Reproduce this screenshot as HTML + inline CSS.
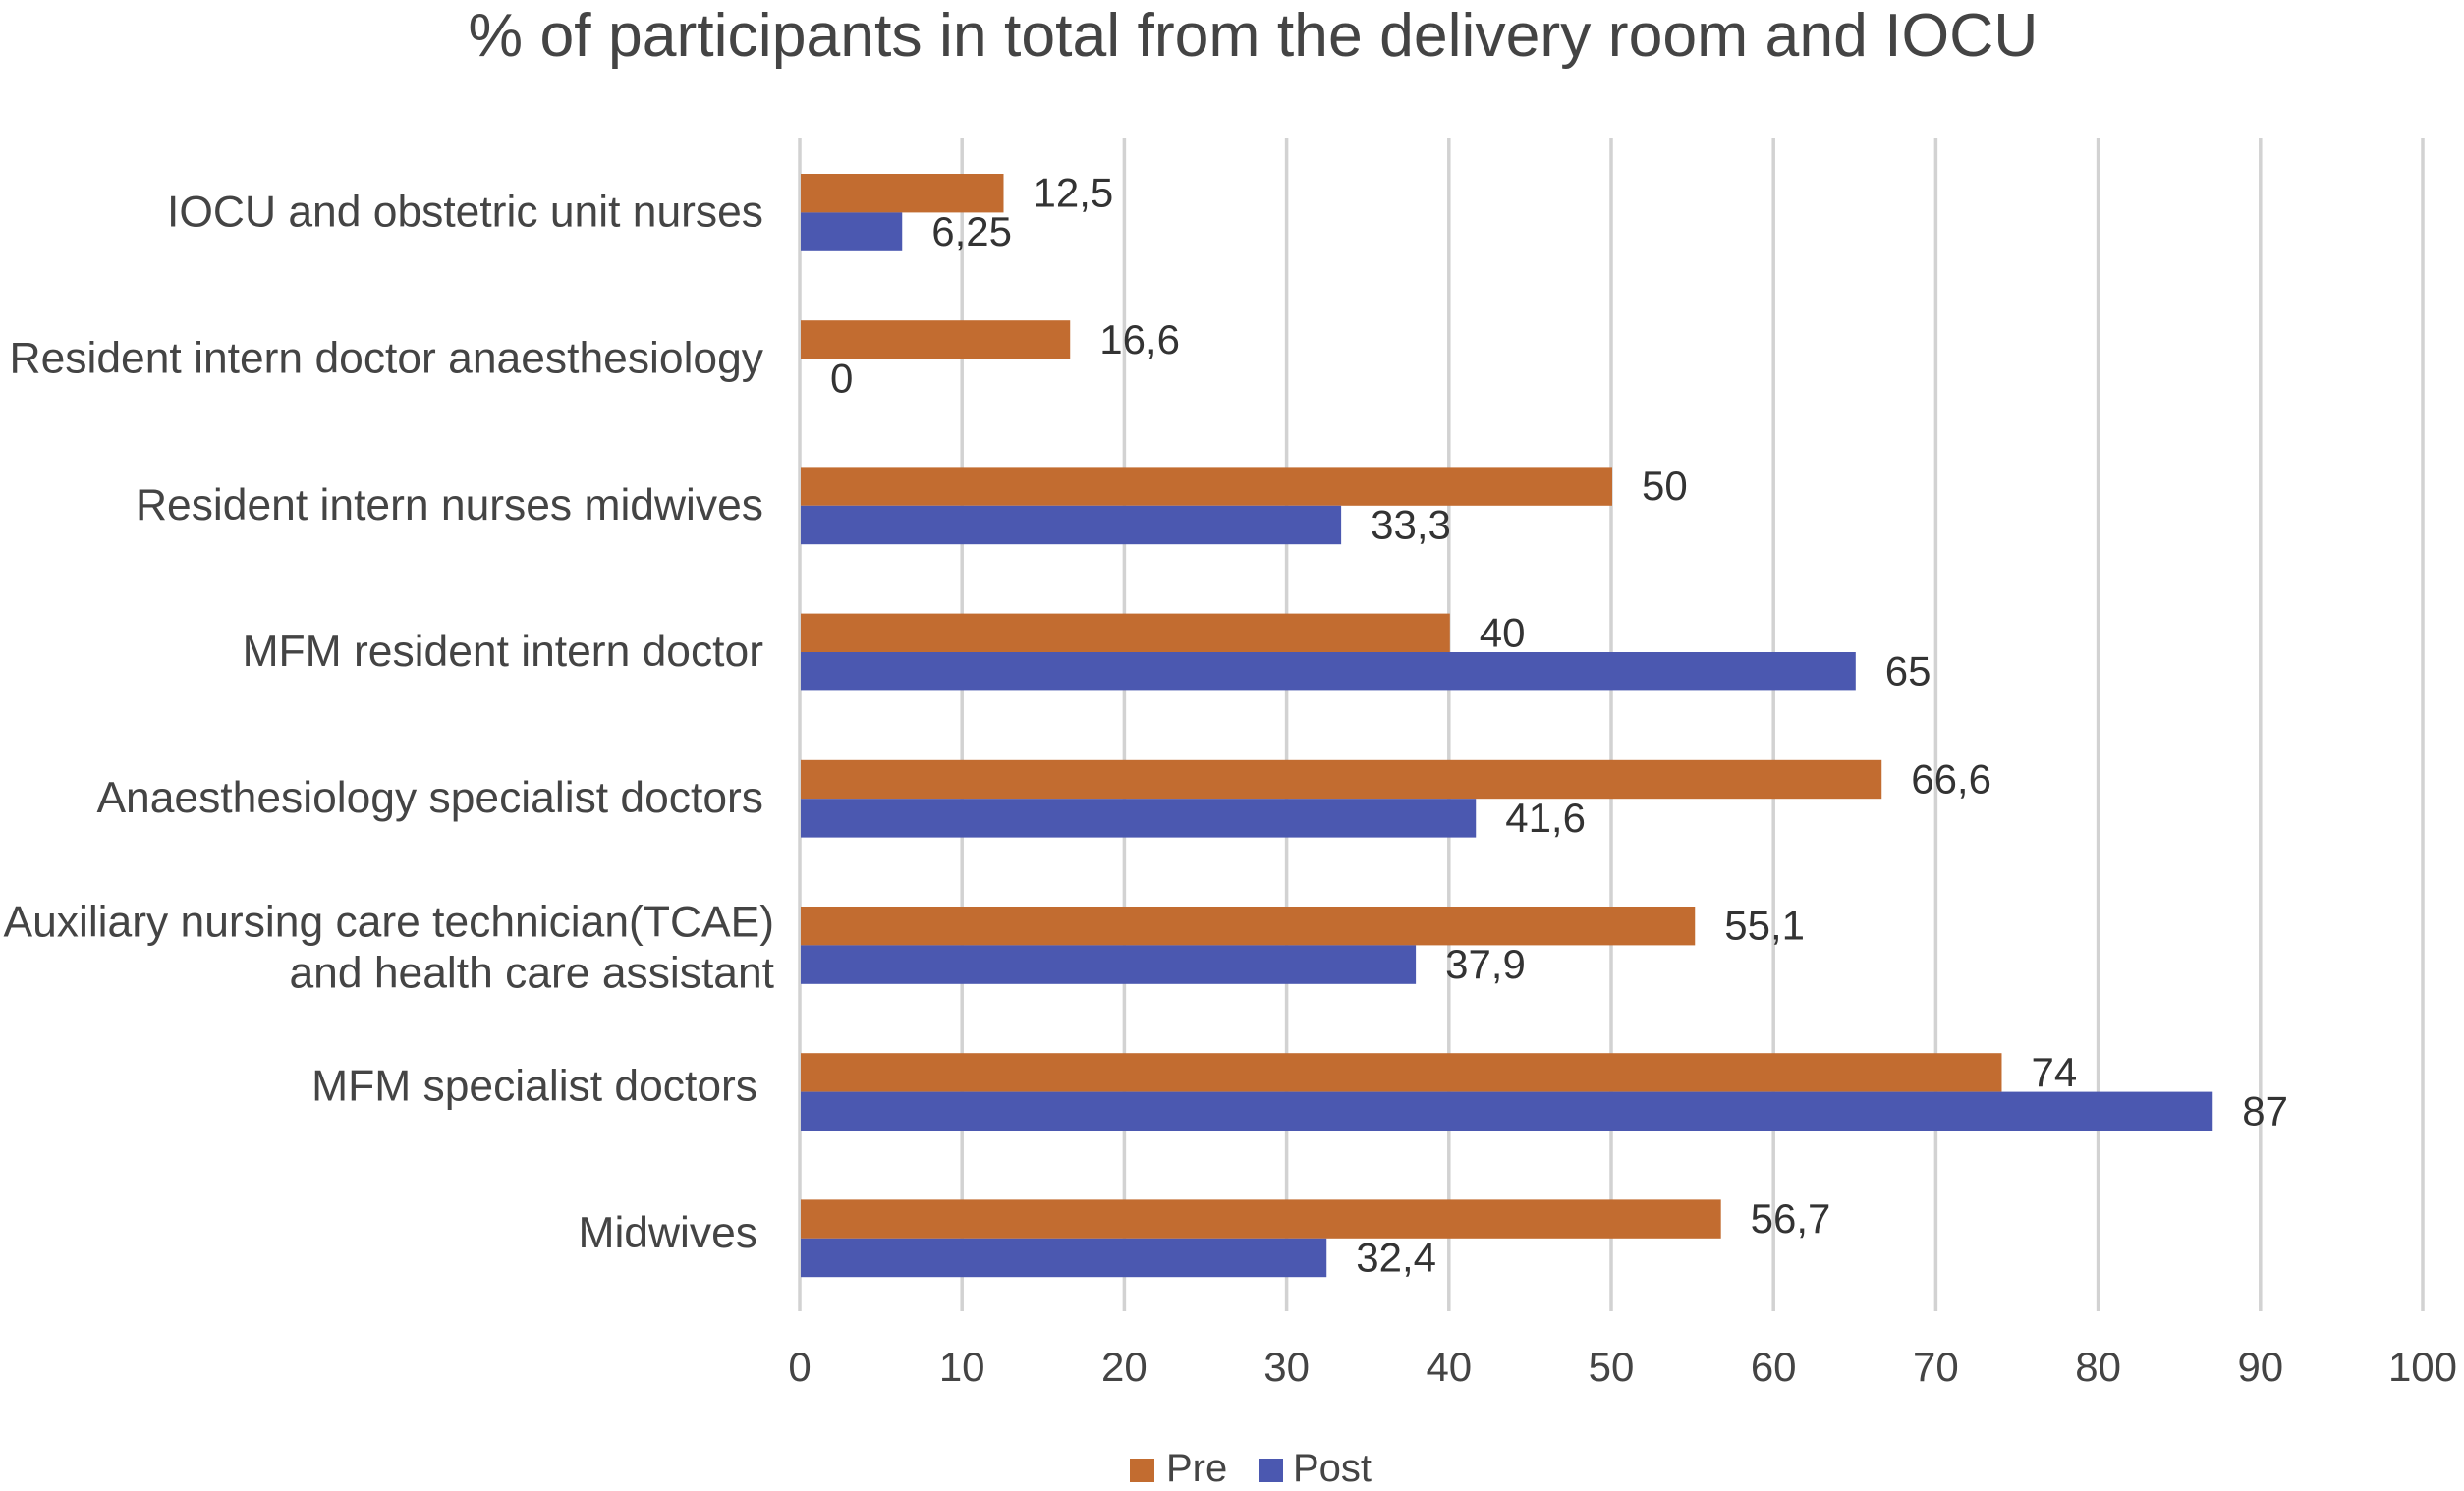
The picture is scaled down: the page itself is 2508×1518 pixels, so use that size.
<!DOCTYPE html>
<html lang="en">
<head>
<meta charset="utf-8">
<title>% of participants in total from the delivery room and IOCU</title>
<style>
html,body{margin:0;padding:0;background:#fff;}
svg{display:block;}
text{font-family:"Liberation Sans",sans-serif;}
</style>
</head>
<body>
<svg id="chart" xmlns="http://www.w3.org/2000/svg" width="2508" height="1518" viewBox="0 0 2508 1518">
  <rect x="0" y="0" width="2508" height="1518" fill="#ffffff"/>
  <text x="1275.5" y="57" text-anchor="middle" font-size="62.5" fill="#444444">% of participants in total from the delivery room and IOCU</text>
  <g id="grid"></g>
  <g id="bars"></g>
  <g id="values"></g>
  <g id="cats"></g>
  <g id="ticks"></g>
  <g>
    <rect x="1150" y="1485" width="25" height="24" fill="#c26c30"/>
    <text x="1187" y="1508" font-size="40" fill="#444444">Pre</text>
    <rect x="1281" y="1485" width="25" height="24" fill="#4b58b0"/>
    <text x="1316" y="1508" font-size="40" fill="#444444">Post</text>
  </g>
</svg>
<script>
const categories = [
  "IOCU and obstetric unit nurses",
  "Resident intern doctor anaesthesiology",
  "Resident intern nurses midwives",
  "MFM resident intern doctor",
  "Anaesthesiology specialist doctors",
  "Auxiliary nursing care technician(TCAE)|and health care assistant",
  "MFM specialist doctors ",
  "Midwives "
];
const preValues = [12.5, 16.6, 50, 40, 66.6, 55.1, 74, 56.7];
const postValues = [6.25, 0, 33.3, 65, 41.6, 37.9, 87, 32.4];
const tickValues = [0, 10, 20, 30, 40, 50, 60, 70, 80, 90, 100];

const NS = "http://www.w3.org/2000/svg";
const x0 = 815, xUnit = 16.52;
const rowTop = 177, rowStep = 149.2, barH = 39.4;
const gridTop = 141, gridBottom = 1335;
const xScale = function (v) { return x0 + v * xUnit; };
const yRow = function (i) { return rowTop + i * rowStep; };

function make(tag, attrs, parent, txt) {
  const el = document.createElementNS(NS, tag);
  for (const k in attrs) el.setAttribute(k, attrs[k]);
  if (txt !== undefined) el.textContent = txt;
  parent.appendChild(el);
  return el;
}

const gridG = document.getElementById("grid");
const ticksG = document.getElementById("ticks");
tickValues.forEach(function (t) {
  const line = make("line", {x1: xScale(t) - 1, x2: xScale(t) - 1, y1: gridTop, y2: gridBottom, stroke: "#d2d2d2", "stroke-width": 3.5}, gridG);
  
  
  const lab = make("text", {x: xScale(t) - 1, y: 1406, "text-anchor": "middle", "font-size": 42, fill: "#444444"}, ticksG, String(t));
  
  
});

const barsG = document.getElementById("bars");
const valuesG = document.getElementById("values");
function drawSeries(values, offset, color, seriesName) {
  values.forEach(function (v, i) {
    const top = yRow(i) + offset * barH;
    const bar = make("rect", {x: xScale(0), y: top, width: xScale(v) - xScale(0), height: barH, fill: color}, barsG);
    
    
    const label = make("text", {x: xScale(v) + 30, y: top + barH / 2 + 14, "font-size": 42, fill: "#333333"}, valuesG, String(v).replace(".", ","));
    
    
  });
}
drawSeries(preValues, 0, "#c26c30", "pre");
drawSeries(postValues, 1, "#4b58b0", "post");

const catsG = document.getElementById("cats");
categories.forEach(function (name, i) {
  const mid = yRow(i) + barH;
  const lines = name.split("|");
  if (lines.length > 1) {
    lines.forEach(function (ln, j) {
      const t = make("text", {x: 788, y: mid - 9 + j * 52, "text-anchor": "end", "font-size": 44.4, fill: "#444444"}, catsG, ln);
      
      
    });
  } else {
    const trailing = name.endsWith(" ");
    const t = make("text", {x: trailing ? 771 : 777, y: mid + (trailing ? 9 : 14), "text-anchor": "end", "font-size": 44.4, fill: "#444444"}, catsG, name.trim());
    
    
  }
});
</script>
</body>
</html>
